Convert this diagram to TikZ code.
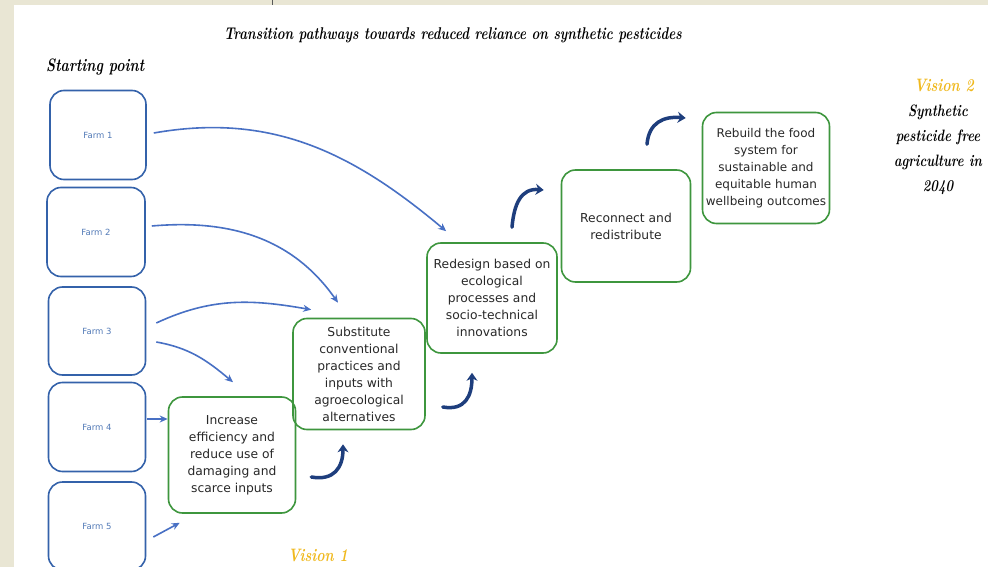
\documentclass[tikz,border=0pt]{standalone}
\usepackage{fontspec}
\setmainfont{DejaVu Sans}
\newfontfamily\scriptf[FakeStretch=0.78]{Latin Modern Roman}
\usetikzlibrary{arrows.meta}
\definecolor{beige}{RGB}{233,230,212}
\definecolor{farmblue}{RGB}{52,98,170}
\definecolor{arrblue}{RGB}{72,112,196}
\definecolor{darkblue}{RGB}{30,62,125}
\definecolor{boxgreen}{RGB}{62,150,62}
\definecolor{gold}{RGB}{240,185,30}
\definecolor{txt}{RGB}{40,40,40}
\begin{document}
\begin{tikzpicture}[x=1pt,y=-1pt,
  farm/.style={draw=farmblue, line width=1.6pt, rounded corners=14pt,
    minimum width=97pt, minimum height=89pt, text=farmblue!85!white,
    font=\fontsize{8.5}{9}\selectfont},
  stage/.style={draw=boxgreen, line width=1.6pt, rounded corners=14pt,
    align=center, text=txt, font=\fontsize{12.3}{17}\selectfont, inner sep=0pt},
  link/.style={draw=arrblue, line width=1.6pt, -{Stealth[length=8pt,width=7pt]}},
  progress/.style={draw=darkblue, line width=3.5pt, line cap=round,
    -{Stealth[length=8pt,width=11pt]}},
  scripttext/.style={font=\scriptf\bfseries\itshape\fontsize{18}{25}\selectfont, inner sep=0pt}
]
\useasboundingbox (0,0) rectangle (988,567);
\clip (0,0) rectangle (988,567);
\fill[beige] (0,0) rectangle (988,567);
\fill[white] (14,5) rectangle (988,567);
\draw[gray!70!black, line width=0.8pt] (272,0) -- (272,5);

% texts
\node[scripttext, font=\scriptf\bfseries\itshape\fontsize{17}{20}\selectfont] (title) at (453,35)
  {Transition pathways towards reduced reliance on synthetic pesticides};
\node[scripttext, anchor=west] (start) at (46,67) {Starting point};
\node[scripttext, text=gold] (v2) at (944,85) {Vision 2};
\node[scripttext, align=center, font=\scriptf\bfseries\itshape\fontsize{16.5}{25}\selectfont] (v2t) at (938,150)
  {Synthetic\\pesticide free\\agriculture in\\2040};
\node[scripttext, text=gold] (v1) at (318,555) {Vision 1};

% farms
\node[farm, minimum width=96pt] (f1) at (98,135) {Farm 1};
\node[farm, minimum width=98pt] (f2) at (96,232) {Farm 2};
\node[farm, minimum height=88pt] (f3) at (97,331) {Farm 3};
\node[farm] (f4) at (97,427) {Farm 4};
\node[farm, minimum height=88pt] (f5) at (97,526) {Farm 5};

% stages
\node[stage, minimum width=127pt, minimum height=116pt] (A) at (232,455)
  {Increase\\efficiency and\\reduce use of\\damaging and\\scarce inputs};
\node[stage, minimum width=132pt, minimum height=111pt] (B) at (359,374)
  {Substitute\\conventional\\practices and\\inputs with\\agroecological\\alternatives};
\node[stage, minimum width=130pt, minimum height=110pt] (C) at (492,298)
  {Redesign based on\\ecological\\processes and\\socio-technical\\innovations};
\node[stage, minimum width=129pt, minimum height=112pt] (D) at (626,226)
  {Reconnect and\\redistribute};
\node[stage, minimum width=127pt, minimum height=111pt, font=\fontsize{12}{17}\selectfont] (E) at (766,168)
  {Rebuild the food\\system for\\sustainable and\\equitable human\\wellbeing outcomes};

% farm links
\draw[link] ([xshift=7pt,yshift=2pt]f1.east) to[out=10,in=140] ([xshift=20pt,yshift=11pt]C.north west);
\draw[link] ([xshift=6pt,yshift=6pt]f2.east) to[out=5,in=125] ([xshift=-21pt,yshift=15pt]B.north);
\draw[link] ([xshift=10pt,yshift=8pt]f3.east) to[out=25,in=170] ([xshift=19pt,yshift=8pt]B.north west);
\draw[link] ([xshift=10pt,yshift=-11pt]f3.east) to[out=-10,in=140] ([xshift=1pt,yshift=14pt]A.north);
\draw[link] ([xshift=1pt,yshift=8pt]f4.east) -- ([yshift=36pt]A.west);
\draw[link] ([xshift=7pt,yshift=-11pt]f5.east) -- ([xshift=12pt,yshift=-9pt]A.south west);

% progress arrows
\coordinate (ta) at ([xshift=15pt,yshift=-22pt]A.east);
\coordinate (ha) at ([xshift=-16pt,yshift=-14pt]B.south);
\coordinate (tb) at ([xshift=17pt,yshift=-33pt]B.east);
\coordinate (hb) at ([xshift=-20pt,yshift=-19pt]C.south);
\coordinate (tc) at ([xshift=20pt,yshift=15pt]C.north);
\coordinate (hc) at ([xshift=-17pt,yshift=36pt]D.west);
\coordinate (td) at ([xshift=21pt,yshift=25pt]D.north);
\coordinate (hd) at ([xshift=-16pt,yshift=50pt]E.west);
\draw[progress] (ta) to[out=-10,in=-90,looseness=1.3] (ha);
\draw[progress] (tb) to[out=-10,in=-90,looseness=1.3] (hb);
\draw[progress] (tc) to[out=85,in=175,looseness=1.2] (hc);
\draw[progress] (td) to[out=85,in=175,looseness=1.2] (hd);
\end{tikzpicture}
\end{document}
